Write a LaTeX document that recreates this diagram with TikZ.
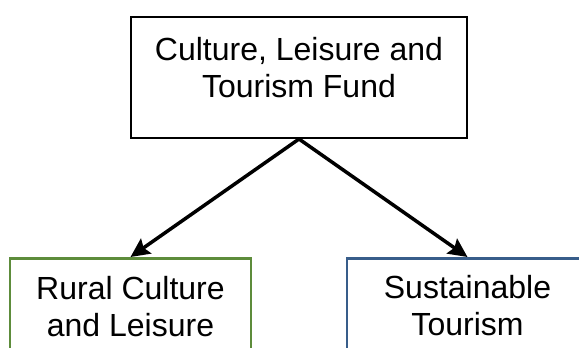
\documentclass[tikz,border=0pt]{standalone}
\usepackage{fontspec}
\setmainfont{Liberation Sans}
\usepackage{tikz}
\usetikzlibrary{arrows.meta, positioning}
\definecolor{LeafGreen}{HTML}{5D8C3B}
\definecolor{SlateBlue}{HTML}{385D8A}

\tikzset{
    fundbox/.style={draw=black, line width=2bp, minimum width=336bp, minimum height=121bp, inner sep=0pt},
    subbox/.style={line width=2.5bp, minimum width=241bp, minimum height=180bp, inner sep=0pt},
    boxtext/.style={align=center, inner sep=0pt, font=\fontsize{32bp}{37.5bp}\selectfont},
    link/.style={line width=3.5bp, -{Stealth[length=19bp, width=18bp, inset=3bp]}}
}

\begin{document}
\begin{tikzpicture}[x=1bp, y=-1bp]
    \useasboundingbox (0,0) rectangle (579,347);

    % Fund box
    \node[fundbox] (fund) at (299, 77.5) {};
    \node[boxtext, anchor=north] (fundtext) at ([yshift=-21bp]fund.north) {Culture, Leisure and\\Tourism Fund};

    % Strands
    \node[subbox, draw=LeafGreen, anchor=north] (rural) at (130.5, 257) {};
    \node[boxtext, anchor=north] (ruraltext) at ([yshift=-19bp]rural.north) {Rural Culture\\and Leisure};

    \node[subbox, draw=SlateBlue, anchor=north] (tourism) at (467.5, 257) {};
    \node[boxtext, anchor=north] (tourismtext) at ([yshift=-18bp]tourism.north) {Sustainable\\Tourism};

    % Links
    \draw[link] (fund.south) -- (rural.north);
    \draw[link] (fund.south) -- (tourism.north);
\end{tikzpicture}
\end{document}
